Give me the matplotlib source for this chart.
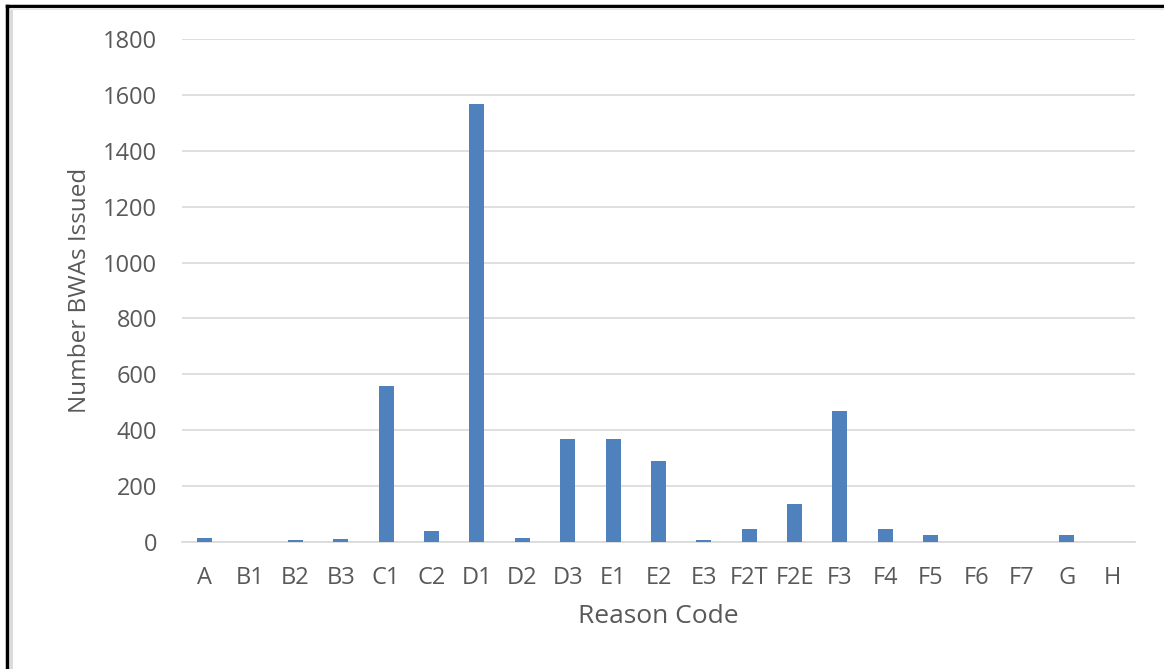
import matplotlib.pyplot as plt
from matplotlib.lines import Line2D

codes = ['A', 'B1', 'B2', 'B3', 'C1', 'C2', 'D1', 'D2', 'D3', 'E1', 'E2',
         'E3', 'F2T', 'F2E', 'F3', 'F4', 'F5', 'F6', 'F7', 'G', 'H']
counts = [16, 0, 6, 11, 558, 41, 1568, 16, 369, 369, 290,
          6, 45, 137, 469, 45, 26, 0, 0, 26, 0]

plt.rcParams['font.family'] = ['Open Sans', 'DejaVu Sans']

fig = plt.figure(figsize=(11.64, 6.69), dpi=100)
ax = fig.add_axes([0.1564, 0.1898, 0.8186, 0.7519])

ax.bar(range(len(codes)), counts, width=0.33, color='#4F81BD', zorder=3)
ax.set_xlim(-0.5, len(codes) - 0.5)
ax.set_ylim(0, 1800)
ax.set_yticks(range(0, 1801, 200))
ax.set_xticks(range(len(codes)))
ax.set_xticklabels(codes)
ax.grid(axis='y', color='#D9D9D9', linewidth=1.2, zorder=0)
for s in ['top', 'right', 'left']:
    ax.spines[s].set_visible(False)
ax.spines['bottom'].set_color('#D9D9D9')
ax.spines['bottom'].set_linewidth(1.2)
ax.tick_params(axis='both', length=0, labelsize=17, labelcolor='#595959')
ax.tick_params(axis='y', pad=18)
ax.tick_params(axis='x', pad=17)
ax.set_xlabel('Reason Code', fontsize=19, color='#595959', labelpad=10)
ax.set_ylabel('Number BWAs Issued', fontsize=17.5, color='#595959', labelpad=8)

# frame around the picture
fig.add_artist(Line2D([6.5 / 1164, 6.5 / 1164], [0, 1 - 6 / 669],
                      color='black', linewidth=2.5, transform=fig.transFigure))
fig.add_artist(Line2D([6.5 / 1164, 1], [1 - 6 / 669, 1 - 6 / 669],
                      color='black', linewidth=2.5, transform=fig.transFigure))
fig.add_artist(Line2D([11 / 1164, 11 / 1164], [0, 1 - 9 / 669],
                      color='#D9D9D9', linewidth=2, transform=fig.transFigure))
fig.add_artist(Line2D([11 / 1164, 1], [1 - 9 / 669, 1 - 9 / 669],
                      color='#E6E6E6', linewidth=1.5, transform=fig.transFigure))

fig.savefig('out.png', dpi=100)
